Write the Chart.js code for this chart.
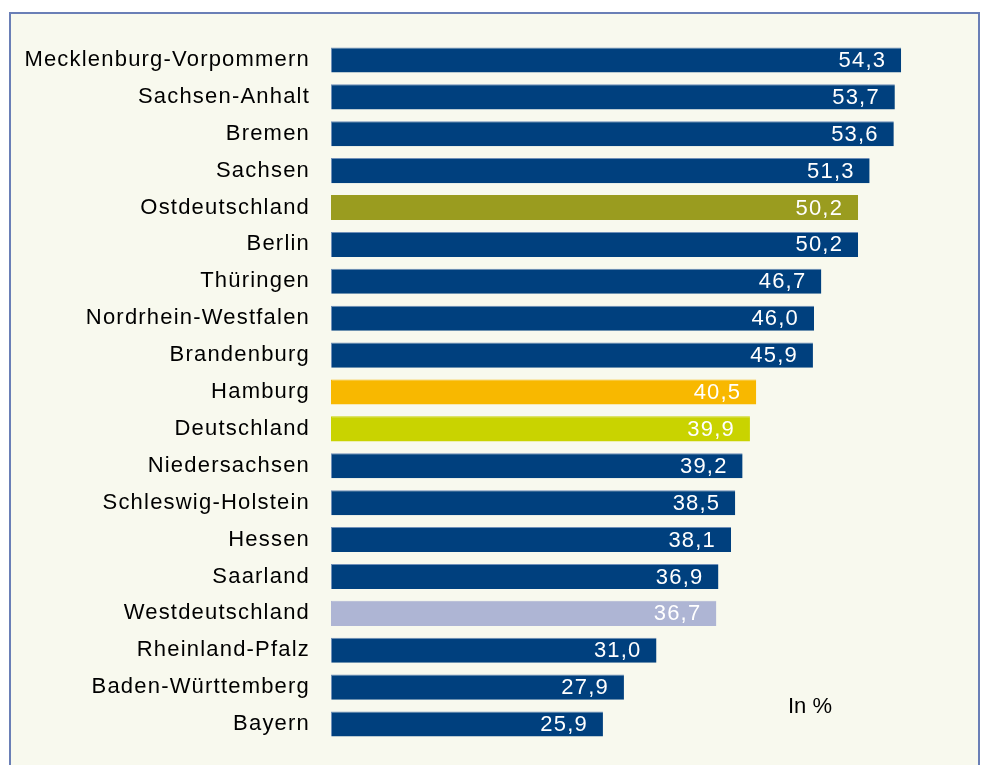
<!DOCTYPE html>
<html>
<head>
<meta charset="utf-8">
<script src="https://cdn.jsdelivr.net/npm/chart.js@4/dist/chart.umd.min.js"></script>
<style>
  html, body { margin: 0; padding: 0; background: #ffffff; overflow: hidden; }
  #panel {
    position: absolute; left: 9px; top: 12px; width: 967px; height: 760px;
    border: 2px solid #6a7fb6; border-bottom: none; background: #f8f9ee;
  }
  #wrap { position: absolute; left: 0; top: 0; width: 981px; height: 765px; }
</style>
</head>
<body>
<div id="panel"></div>
<div id="wrap"><canvas id="chart" width="981" height="765"></canvas></div>
<script>
const regions = [
    'Mecklenburg-Vorpommern', 'Sachsen-Anhalt', 'Bremen', 'Sachsen', 'Ostdeutschland',
    'Berlin', 'Thüringen', 'Nordrhein-Westfalen', 'Brandenburg', 'Hamburg',
    'Deutschland', 'Niedersachsen', 'Schleswig-Holstein', 'Hessen', 'Saarland',
    'Westdeutschland', 'Rheinland-Pfalz', 'Baden-Württemberg', 'Bayern'
];
const shares = [54.3, 53.7, 53.6, 51.3, 50.2, 50.2, 46.7, 46.0, 45.9, 40.5,
    39.9, 39.2, 38.5, 38.1, 36.9, 36.7, 31.0, 27.9, 25.9];
const unitLabel = 'In %';

const navy = '#00407e';
const highlight = {
    'Ostdeutschland': '#9a9c1f',
    'Hamburg': '#f8b800',
    'Deutschland': '#c9d300',
    'Westdeutschland': '#aeb5d4'
};
const barColors = regions.map(r => highlight[r] || navy);
const edgeColors = regions.map(r => highlight[r] ? highlight[r] : '#6f8fb8');

const SPACING = '1.2px';
const FONT = "'Liberation Sans', Arial, sans-serif";

const valueLabels = {
    id: 'valueLabels',
    beforeDraw(chart) {
        chart.ctx.letterSpacing = SPACING;
    },
    afterDatasetsDraw(chart) {
        const ctx = chart.ctx;
        const meta = chart.getDatasetMeta(0);
        ctx.save();
        ctx.letterSpacing = SPACING;
        ctx.font = '22px ' + FONT;
        ctx.fillStyle = '#ffffff';
        ctx.textAlign = 'right';
        ctx.textBaseline = 'middle';
        meta.data.forEach((bar, i) => {
            const txt = shares[i].toFixed(1).replace('.', ',');
            ctx.fillText(txt, bar.x - 15, bar.y + 1);
        });
        ctx.restore();
    },
    afterDraw(chart) {
        const ctx = chart.ctx;
        ctx.save();
        ctx.letterSpacing = '0px';
        ctx.font = '22px ' + FONT;
        ctx.fillStyle = '#000000';
        ctx.textAlign = 'left';
        ctx.textBaseline = 'alphabetic';
        ctx.fillText(unitLabel, 788, 713);
        ctx.restore();
        ctx.letterSpacing = '0px';
    }
};

const ctx = document.getElementById('chart');

new Chart(ctx, {
    type: 'bar',
    data: {
        labels: regions,
        datasets: [{
            data: shares,
            backgroundColor: barColors,
            borderColor: edgeColors,
            borderWidth: { left: 1, top: 1, right: 0, bottom: 0 },
            borderSkipped: false,
            barPercentage: 0.68,
            categoryPercentage: 1.0
        }]
    },
    options: {
        indexAxis: 'y',
        responsive: false,
        animation: false,
        layout: {
            padding: { left: 0, right: 20, top: 41.5, bottom: 22.5 }
        },
        scales: {
            x: {
                display: false,
                min: 0,
                max: 60
            },
            y: {
                grid: { display: false, drawTicks: false },
                border: { display: false },
                afterFit: scale => {
                    scale.width = 331;
                    scale.paddingTop = 0;
                    scale.paddingBottom = 0;
                },
                ticks: {
                    color: '#000000',
                    padding: 21,
                    autoSkip: false,
                    font: { family: FONT, size: 22 }
                }
            }
        },
        plugins: {
            legend: { display: false },
            tooltip: { enabled: false }
        }
    },
    plugins: [valueLabels]
});
</script>
</body>
</html>
